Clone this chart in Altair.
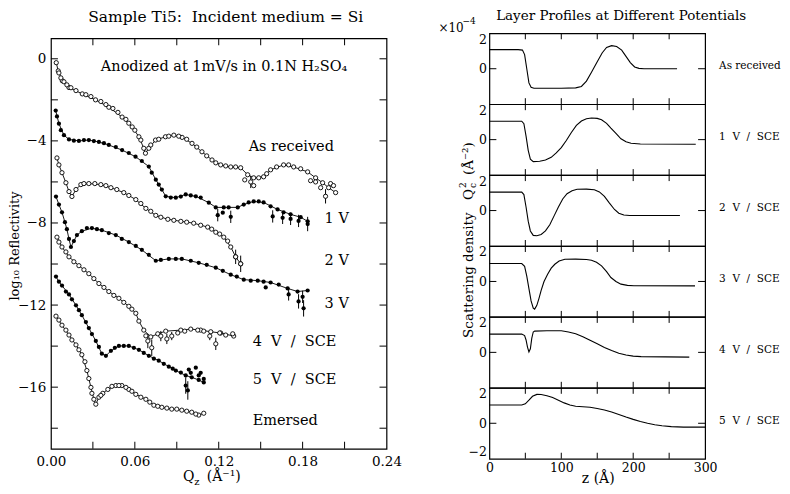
import altair as alt
import pandas as pd

FONT = "DejaVu Serif"
NB = "\u00a0"

# ---------------- Left panel: log10 reflectivity vs Qz ----------------
curve_names = ["As received", "1 V", "2 V", "3 V", "4 V / SCE", "5 V / SCE", "Emersed"]
curve_styles = ["open", "filled", "open", "filled", "open", "filled", "open"]

# main points (also carry the fitted line)
q_as = [0.0038, 0.0052, 0.0081, 0.0129, 0.0224, 0.0319, 0.0414, 0.0509, 0.0581, 0.0629, 0.0664, 0.0676, 0.0700,
        0.0748, 0.0819, 0.0879, 0.0938, 0.1009, 0.1080, 0.1152, 0.1214, 0.1286, 0.1357, 0.1407, 0.1450, 0.1521,
        0.1571, 0.1664, 0.1736, 0.1836, 0.1893, 0.1943, 0.1986, 0.2036]
r_as = [-0.19, -0.59, -1.07, -1.40, -1.71, -2.00, -2.36, -2.84, -3.32, -3.80, -4.36, -4.60, -4.36,
        -3.96, -3.80, -3.72, -3.83, -4.12, -4.53, -4.93, -5.17, -5.27, -5.31, -5.65, -5.80, -5.75,
        -5.41, -5.17, -5.27, -5.51, -5.80, -6.04, -6.28, -6.52]
# additional measured points (markers only) and points with error bars
mq_as = [0.0057, 0.0071, 0.0093, 0.0114, 0.0143, 0.0179, 0.0250, 0.0286, 0.0357, 0.0393, 0.0443, 0.0479, 0.0536,
         0.0557, 0.0600, 0.0643, 0.0714, 0.0771, 0.0843, 0.0914, 0.0971, 0.1043, 0.1114, 0.1179, 0.1250, 0.1321,
         0.1486, 0.1543, 0.1614, 0.1700, 0.1786]
mr_as = [-0.69, -0.93, -1.12, -1.27, -1.41, -1.55, -1.75, -1.84, -2.08, -2.23, -2.42, -2.61, -2.95,
         -3.14, -3.48, -3.96, -4.20, -3.92, -3.77, -3.77, -3.92, -4.30, -4.73, -5.07, -5.22, -5.27,
         -5.80, -5.60, -5.27, -5.17, -5.36]
eq_as = [0.1386, 0.1429, 0.1450, 0.1857, 0.1893, 0.1929, 0.1964, 0.2000, 0.2021]
er_as = [-5.90, -6.00, -6.18, -5.94, -6.00, -6.28, -6.70, -6.08, -6.18]
ee_as = [0.0, 0.30, 0.0, 0.0, 0.0, 0.0, 0.35, 0.0, 0.0]

q_1v = [0.0034, 0.0057, 0.0093, 0.0129, 0.0200, 0.0271, 0.0343, 0.0414, 0.0509, 0.0605, 0.0700, 0.0750, 0.0793,
        0.0821, 0.0893, 0.0964, 0.1036, 0.1129, 0.1179, 0.1236, 0.1336, 0.1379, 0.1450, 0.1521, 0.1621, 0.1714,
        0.1786, 0.1836]
r_1v = [-2.52, -3.16, -3.72, -3.93, -4.00, -3.96, -4.05, -4.20, -4.45, -4.77, -5.25, -5.89, -6.37,
        -6.70, -6.77, -6.61, -6.70, -7.01, -7.24, -7.24, -7.24, -7.10, -6.95, -7.00, -7.34, -7.58,
        -7.72, -7.92]
mq_1v = [0.0043, 0.0071, 0.0164, 0.0236, 0.0307, 0.0379, 0.0464, 0.0557, 0.0650, 0.0721, 0.0771, 0.0857, 0.0929,
         0.1000, 0.1071, 0.1271, 0.1414, 0.1486, 0.1571, 0.1664]
mr_1v = [-2.81, -3.48, -3.99, -3.96, -4.01, -4.11, -4.30, -4.59, -4.98, -5.55, -6.13, -6.76, -6.71,
         -6.66, -6.76, -7.24, -7.00, -6.95, -7.19, -7.48]
eq_1v = [0.1193, 0.1229, 0.1286, 0.1586, 0.1657, 0.1714, 0.1771, 0.1836]
er_1v = [-7.62, -7.50, -7.70, -7.68, -7.75, -7.80, -7.90, -8.05]
ee_1v = [0.30, 0.0, 0.30, 0.30, 0.30, 0.30, 0.30, 0.35]

q_2v = [0.0043, 0.0057, 0.0079, 0.0107, 0.0129, 0.0150, 0.0179, 0.0214, 0.0271, 0.0357, 0.0429, 0.0521, 0.0607,
        0.0679, 0.0750, 0.0836, 0.0929, 0.1021, 0.1121, 0.1179, 0.1236, 0.1286, 0.1321, 0.1357]
r_2v = [-4.83, -5.17, -5.55, -6.04, -6.47, -6.71, -6.37, -6.13, -6.08, -6.13, -6.28, -6.52, -6.86,
        -7.29, -7.63, -7.82, -7.92, -8.01, -8.20, -8.45, -8.69, -9.17, -9.65, -9.99]
mq_2v = [0.0236, 0.0314, 0.0393, 0.0471, 0.0557, 0.0643, 0.0714, 0.0786, 0.0879, 0.0971, 0.1071, 0.1150, 0.1207,
         0.1264]
mr_2v = [-6.08, -6.08, -6.18, -6.37, -6.66, -7.05, -7.43, -7.72, -7.87, -7.96, -8.11, -8.30, -8.54, -8.88]
eq_2v = [0.1321, 0.1357]
er_2v = [-9.65, -9.99]
ee_2v = [0.35, 0.40]

q_3v = [0.0036, 0.0057, 0.0079, 0.0100, 0.0114, 0.0129, 0.0143, 0.0164, 0.0186, 0.0221, 0.0293, 0.0364, 0.0464,
        0.0557, 0.0650, 0.0750, 0.0843, 0.0936, 0.1057, 0.1179, 0.1286, 0.1379, 0.1479, 0.1571, 0.1693, 0.1764,
        0.1836]
r_3v = [-6.71, -7.10, -7.48, -7.96, -8.30, -8.78, -9.17, -8.88, -8.59, -8.40, -8.25, -8.35, -8.59,
        -8.93, -9.31, -9.84, -9.75, -9.75, -9.94, -10.18, -10.52, -10.76, -10.81, -10.90, -11.19, -11.34,
        -11.29]
mq_3v = [0.0257, 0.0329, 0.0414, 0.0507, 0.0607, 0.0700, 0.0786, 0.0893, 0.1000, 0.1114, 0.1229, 0.1329, 0.1429,
         0.1521, 0.1629]
mr_3v = [-8.25, -8.30, -8.49, -8.78, -9.12, -9.55, -9.80, -9.75, -9.84, -10.04, -10.33, -10.61, -10.81,
         -10.86, -11.00]
eq_3v = [0.1536, 0.1700, 0.1771, 0.1800, 0.1807]
er_3v = [-11.14, -11.48, -11.82, -11.60, -12.16]
ee_3v = [0.0, 0.30, 0.35, 0.30, 0.40]

q_4v = [0.0043, 0.0079, 0.0129, 0.0200, 0.0271, 0.0343, 0.0414, 0.0486, 0.0557, 0.0607, 0.0629, 0.0664, 0.0714,
        0.0764, 0.0821, 0.0929, 0.1000, 0.1071, 0.1143, 0.1214, 0.1307]
r_4v = [-8.69, -9.17, -9.65, -10.08, -10.47, -10.95, -11.34, -11.67, -12.06, -12.40, -12.78, -13.22, -13.55,
        -13.40, -13.27, -13.22, -13.17, -13.22, -13.30, -13.36, -13.51]
mq_4v = [0.0057, 0.0107, 0.0164, 0.0236, 0.0307, 0.0379, 0.0450, 0.0521, 0.0579]
mr_4v = [-8.93, -9.41, -9.89, -10.28, -10.71, -11.14, -11.53, -11.87, -12.20]
eq_4v = [0.0679, 0.0693, 0.0721, 0.0786, 0.0829, 0.0864, 0.0907, 0.0957, 0.1050, 0.1093, 0.1136, 0.1179,
         0.1207, 0.1250, 0.1300]
er_4v = [-13.50, -13.75, -14.08, -13.51, -13.65, -13.51, -13.36, -13.27, -13.22, -13.27, -13.51, -13.89,
         -13.36, -13.46, -13.40]
ee_4v = [0.0, 0.35, 0.40, 0.25, 0.25, 0.20, 0.0, 0.0, 0.0, 0.0, 0.20, 0.30, 0.0, 0.0, 0.0]

q_5v = [0.0036, 0.0057, 0.0079, 0.0129, 0.0179, 0.0221, 0.0271, 0.0321, 0.0364, 0.0393, 0.0429, 0.0486, 0.0557,
        0.0629, 0.0700, 0.0771, 0.0843, 0.0893, 0.0964, 0.1007, 0.1057, 0.1093]
r_5v = [-10.61, -10.86, -11.05, -11.48, -12.01, -12.49, -13.12, -13.75, -14.37, -14.47, -14.23, -13.99, -13.99,
        -14.18, -14.47, -14.71, -15.00, -15.19, -15.43, -15.52, -15.65, -15.77]
mq_5v = [0.0107, 0.0150, 0.0200, 0.0250, 0.0293, 0.0343, 0.0457, 0.0521, 0.0593, 0.0664, 0.0736, 0.0807, 0.0871,
         0.0929]
mr_5v = [-11.34, -11.72, -12.25, -12.83, -13.41, -14.04, -14.08, -13.99, -14.08, -14.33, -14.61, -14.86, -15.10,
         -15.29]
eq_5v = [0.0964, 0.0979, 0.0986, 0.1000, 0.1036, 0.1057, 0.1071, 0.1093]
er_5v = [-15.92, -16.16, -15.14, -15.30, -15.05, -15.43, -15.30, -15.60]
ee_5v = [0.40, 0.45, 0.0, 0.0, 0.0, 0.0, 0.0, 0.0]

q_em = [0.0036, 0.0079, 0.0129, 0.0179, 0.0221, 0.0257, 0.0286, 0.0307, 0.0321, 0.0343, 0.0371, 0.0407, 0.0464,
        0.0507, 0.0557, 0.0607, 0.0679, 0.0736, 0.0793, 0.0864, 0.0936, 0.1007, 0.1057, 0.1093]
r_em = [-12.54, -12.98, -13.46, -13.94, -14.42, -15.19, -16.01, -16.59, -16.83, -16.49, -16.30, -16.11, -15.92,
        -15.92, -16.11, -16.35, -16.59, -16.88, -16.98, -17.07, -17.12, -17.22, -17.36, -17.27]
mq_em = [0.0057, 0.0107, 0.0150, 0.0200, 0.0243, 0.0271, 0.0293, 0.0357, 0.0436, 0.0486, 0.0536, 0.0579, 0.0643,
         0.0707, 0.0764, 0.0829, 0.0900, 0.0971, 0.1036]
mr_em = [-12.73, -13.22, -13.70, -14.18, -14.76, -15.58, -16.30, -16.40, -15.96, -15.92, -16.01, -16.20, -16.49,
         -16.73, -16.93, -17.02, -17.07, -17.17, -17.31]
eq_em = []
er_em = []
ee_em = []

q_label_values = [0.0, 0.06, 0.12, 0.18, 0.24]
q_tick_values = [0.03, 0.06, 0.09, 0.12, 0.15, 0.18, 0.21]
r_label_values = [0, -4, -8, -12, -16]
r_tick_values = [-18, -16, -14, -12, -10, -8, -6, -4, -2, 0]

left_label_text = ["Anodized at 1mV/s in 0.1N H\u2082SO\u2084", "As received", "1 V", "2 V", "3 V",
                   f"4 {NB}V {NB}/ {NB}SCE", f"5 {NB}V {NB}/ {NB}SCE", "Emersed"]
left_label_q = [0.0357, 0.1414, 0.1957, 0.1957, 0.1957, 0.1443, 0.1443, 0.1443]
left_label_r = [-0.40, -4.30, -7.82, -9.84, -11.96, -13.80, -15.67, -17.65]

# ---------------- Right panels: scattering density profiles ----------------
profile_names = ["As received", f"1 {NB}V {NB}/ {NB}SCE", f"2 {NB}V {NB}/ {NB}SCE", f"3 {NB}V {NB}/ {NB}SCE",
                 f"4 {NB}V {NB}/ {NB}SCE", f"5 {NB}V {NB}/ {NB}SCE"]
z_p0 = [0, 40, 46, 49, 52, 55, 58, 62, 100, 120, 128, 135, 142, 150, 157, 163, 170, 177, 184, 190, 196, 202, 208, 215, 261]
v_p0 = [1.08, 1.08, 1.05, 0.8, 0.0, -0.8, -1.05, -1.1, -1.1, -1.08, -1.0, -0.7, -0.2, 0.4, 0.9, 1.2, 1.3, 1.25, 1.05,
        0.7, 0.35, 0.1, 0.02, 0.0, 0.0]
z_p1 = [0, 45, 48, 51, 54, 57, 61, 70, 78, 86, 93, 100, 107, 114, 121, 128, 135, 142, 150, 156, 163, 169, 176, 183,
        190, 197, 210, 287]
v_p1 = [1.04, 1.04, 0.9, 0.2, -0.6, -1.1, -1.24, -1.22, -1.15, -1.0, -0.75, -0.45, -0.05, 0.4, 0.8, 1.05, 1.18, 1.22,
        1.2, 1.12, 0.92, 0.65, 0.35, 0.05, -0.12, -0.2, -0.25, -0.26]
z_p2 = [0, 45, 48, 51, 54, 57, 61, 66, 72, 78, 84, 90, 96, 102, 108, 115, 122, 135, 146, 153, 160, 167, 174, 180, 187,
        195, 265]
v_p2 = [1.04, 1.04, 0.9, 0.2, -0.6, -1.15, -1.4, -1.42, -1.35, -1.15, -0.8, -0.3, 0.2, 0.65, 0.95, 1.12, 1.2, 1.21,
        1.17, 1.05, 0.8, 0.42, 0.06, -0.15, -0.25, -0.28, -0.28]
z_p3 = [0, 45, 49, 52, 55, 58, 61, 63, 66, 69, 72, 76, 81, 86, 91, 97, 105, 120, 135, 142, 149, 156, 163, 169, 176,
        183, 192, 201, 286]
v_p3 = [1.01, 1.01, 0.85, 0.3, -0.4, -1.1, -1.5, -1.56, -1.35, -0.95, -0.5, 0.0, 0.41, 0.75, 0.97, 1.15, 1.25, 1.26,
        1.24, 1.2, 1.08, 0.88, 0.55, 0.22, 0.0, -0.15, -0.22, -0.24, -0.25]
z_p4 = [0, 45, 49, 51, 53, 55, 57, 59, 61, 63, 80, 100, 110, 120, 130, 140, 150, 160, 170, 180, 190, 200, 211, 278]
v_p4 = [1.03, 1.03, 0.95, 0.7, 0.3, 0.02, 0.2, 0.8, 1.15, 1.2, 1.22, 1.22, 1.15, 1.05, 0.88, 0.68, 0.48, 0.28, 0.1,
        -0.05, -0.15, -0.21, -0.24, -0.27]
z_p5 = [0, 45, 50, 55, 60, 66, 72, 80, 88, 96, 104, 112, 120, 130, 140, 150, 160, 170, 180, 190, 200, 210, 220, 230,
        240, 253, 270, 300]
v_p5 = [1.03, 1.03, 1.1, 1.3, 1.52, 1.63, 1.62, 1.55, 1.45, 1.3, 1.15, 1.03, 0.96, 0.93, 0.9, 0.83, 0.75, 0.64, 0.5,
        0.35, 0.22, 0.1, 0.0, -0.08, -0.14, -0.19, -0.22, -0.22]
profiles_z = [z_p0, z_p1, z_p2, z_p3, z_p4, z_p5]
profiles_v = [v_p0, v_p1, v_p2, v_p3, v_p4, v_p5]
z_label_values = [0, 100, 200, 300]
z_tick_values = [50, 100, 150, 200, 250]

# ---------------- build tables ----------------
mains = [(q_as, r_as), (q_1v, r_1v), (q_2v, r_2v), (q_3v, r_3v), (q_4v, r_4v), (q_5v, r_5v), (q_em, r_em)]
mores = [(mq_as, mr_as), (mq_1v, mr_1v), (mq_2v, mr_2v), (mq_3v, mr_3v), (mq_4v, mr_4v), (mq_5v, mr_5v),
         (mq_em, mr_em)]
extras = [(eq_as, er_as, ee_as), (eq_1v, er_1v, ee_1v), (eq_2v, er_2v, ee_2v), (eq_3v, er_3v, ee_3v),
          (eq_4v, er_4v, ee_4v), (eq_5v, er_5v, ee_5v), (eq_em, er_em, ee_em)]
rows = []
for name, style, (qs, rs) in zip(curve_names, curve_styles, mains):
    for q, r in zip(qs, rs):
        rows.append(dict(curve=name, style=style, q=q, r=r))
main_df = pd.DataFrame(rows)
mrows = []
for name, style, (qs, rs) in zip(curve_names, curve_styles, mores):
    for q, r in zip(qs, rs):
        mrows.append(dict(curve=name, style=style, q=q, r=r))
more_df = pd.DataFrame(mrows)
erows = []
for name, style, (qs, rs, es) in zip(curve_names, curve_styles, extras):
    for q, r, e in zip(qs, rs, es):
        erows.append(dict(curve=name, style=style, q=q, r=r, lo=r - e, hi=r + e, err=e))
extra_df = pd.DataFrame(erows)
pts_df = pd.concat([main_df, more_df, extra_df[["curve", "style", "q", "r"]]], ignore_index=True)
bars_df = extra_df[extra_df["err"] > 0]

W, H = 336, 411
xs = alt.Scale(domain=[0, 0.24], nice=False, zero=False)
ys = alt.Scale(domain=[-19, 1], nice=False, zero=False)
xax = alt.Axis(values=q_label_values, format=".2f", ticks=False, domain=False, grid=False, title=None,
               labelPadding=6, labelFontSize=13.5, labelFont=FONT, labelColor="black", labelFlush=False)
yax = alt.Axis(values=r_label_values, format="d", ticks=False, domain=False, grid=False, title=None,
               labelPadding=5, labelFontSize=13.5, labelFont=FONT, labelColor="black", labelFlush=False)


def XQ(f="q"):
    return alt.X(f"{f}:Q", scale=xs, axis=xax)


def YR(f="r"):
    return alt.Y(f"{f}:Q", scale=ys, axis=yax)


def txt(t, x, y, size=14, angle=0, align="center", baseline="middle"):
    kw = dict(align=align, baseline=baseline, font=FONT, fontSize=size, color="black")
    if angle:
        kw["angle"] = angle
    return alt.Chart(pd.DataFrame({"t": [t]})).mark_text(**kw).encode(
        x=alt.value(x), y=alt.value(y), text="t:N")


fit = alt.Chart(main_df).mark_line(color="black", strokeWidth=0.9).encode(x=XQ(), y=YR(), detail="curve:N")
bars = alt.Chart(bars_df).mark_rule(color="black", strokeWidth=1).encode(x=XQ(), y=YR("lo"), y2="hi:Q")
open_pts = alt.Chart(pts_df[pts_df["style"] == "open"]).mark_point(
    shape="circle", filled=True, fill="white", stroke="black", strokeWidth=0.9, size=18, opacity=1
).encode(x=XQ(), y=YR())
filled_pts = alt.Chart(pts_df[pts_df["style"] == "filled"]).mark_circle(
    color="black", size=18, opacity=1).encode(x=XQ(), y=YR())

tq_df = pd.DataFrame({"q": q_tick_values})
tr_df = pd.DataFrame({"r": r_tick_values})
t_top = alt.Chart(tq_df).mark_rule(color="black").encode(x=XQ(), y=alt.value(0), y2=alt.value(7))
t_bot = alt.Chart(tq_df).mark_rule(color="black").encode(x=XQ(), y=alt.value(H), y2=alt.value(H - 7))
t_lft = alt.Chart(tr_df).mark_rule(color="black").encode(y=YR(), x=alt.value(0), x2=alt.value(7))
t_rgt = alt.Chart(tr_df).mark_rule(color="black").encode(y=YR(), x=alt.value(W), x2=alt.value(W - 7))

lab_df = pd.DataFrame({"q": left_label_q, "r": left_label_r, "t": left_label_text})
labels = alt.Chart(lab_df).mark_text(align="left", baseline="middle", font=FONT, fontSize=14.5,
                                     color="black").encode(x=XQ(), y=YR(), text="t:N")

left_main = alt.layer(
    fit, bars, open_pts, filled_pts, t_top, t_bot, t_lft, t_rgt, labels,
    txt(f"Sample Ti5: {NB}Incident medium = Si", 175, -21, size=15.5),
    txt("log\u2081\u2080 Reflectivity", -36, 208, size=13, angle=270),
    txt("Q", 138, H + 28, size=14),
    txt("z", 146, H + 33, size=10),
    txt("(\u00c5\u207b\u00b9)", 173, H + 28, size=14),
).properties(width=W, height=H)

spacer = alt.Chart(pd.DataFrame({"t": [""]})).mark_text().encode(text="t:N").properties(
    width=W, height=5, view=alt.ViewBackground(strokeOpacity=0))
left = alt.vconcat(spacer, left_main, spacing=0, bounds="flush")

# ---------------- right panels ----------------
RW, RH = 216, 71
zs = alt.Scale(domain=[0, 300], nice=False, zero=False)
vs = alt.Scale(domain=[-2, 2], nice=False, zero=False)
panels = []
for i in range(6):
    last = i == 5
    if last:
        zax = alt.Axis(values=z_label_values, format="d", ticks=False, domain=False, grid=False, title=None,
                       labelPadding=3, labelFontSize=12.5, labelFont=FONT, labelColor="black", labelFlush=False)
    else:
        zax = None
    vax = alt.Axis(values=[-2, 0, 2] if last else [0, 2], format="d", ticks=False, domain=False, grid=False,
                   title=None, labelPadding=3, labelFontSize=12.5, labelFont=FONT, labelColor="black",
                   labelFlush=True)

    def XZ(f="z", zax=zax):
        return alt.X(f"{f}:Q", scale=zs, axis=zax)

    def YV(f="v", vax=vax):
        return alt.Y(f"{f}:Q", scale=vs, axis=vax)

    pdf = pd.DataFrame({"z": profiles_z[i], "v": profiles_v[i]})
    zt = pd.DataFrame({"z": z_tick_values})
    vt = pd.DataFrame({"v": [0]})
    layers = [
        alt.Chart(pdf).mark_line(color="black", strokeWidth=1.1).encode(x=XZ(), y=YV()),
        alt.Chart(zt).mark_rule(color="black").encode(x=XZ(), y=alt.value(0), y2=alt.value(6)),
        alt.Chart(zt).mark_rule(color="black").encode(x=XZ(), y=alt.value(RH), y2=alt.value(RH - 6)),
        alt.Chart(vt).mark_rule(color="black").encode(y=YV(), x=alt.value(0), x2=alt.value(7)),
        alt.Chart(vt).mark_rule(color="black").encode(y=YV(), x=alt.value(RW), x2=alt.value(RW - 7)),
        txt(profile_names[i], RW + 14, 33, size=10.5, align="left"),
    ]
    if i == 0:
        layers += [
            txt("Layer Profiles at Different Potentials", 132, -17, size=13.5),
            txt("\u00d710", -51, -1, size=12, align="left", baseline="alphabetic"),
            txt("\u22124", -27, -9, size=9, align="left", baseline="alphabetic"),
        ]
    if i == 2:
        layers += [
            txt("Scattering density", -20, 163, size=13.5, angle=270, align="left"),
            txt("Q", -20, 25, size=13.5, angle=270, align="left"),
            txt("c", -16, 13, size=9, angle=270, align="left"),
            txt("2", -26, 13, size=9, angle=270, align="left"),
            txt("(\u00c5\u207b\u00b2)", -20, 0, size=13.5, angle=270, align="left"),
        ]
    if last:
        layers += [txt("z (\u00c5)", 109, RH + 20, size=14)]
    panels.append(alt.layer(*layers).properties(width=RW, height=RH))

right = alt.vconcat(*panels, spacing=0, bounds="flush")

chart = alt.hconcat(left, right, spacing=35).properties(padding=0, background="white").configure_view(
    stroke="black", strokeWidth=1.2)

chart.save("out.html", embed_options={"renderer": "svg", "actions": False})
